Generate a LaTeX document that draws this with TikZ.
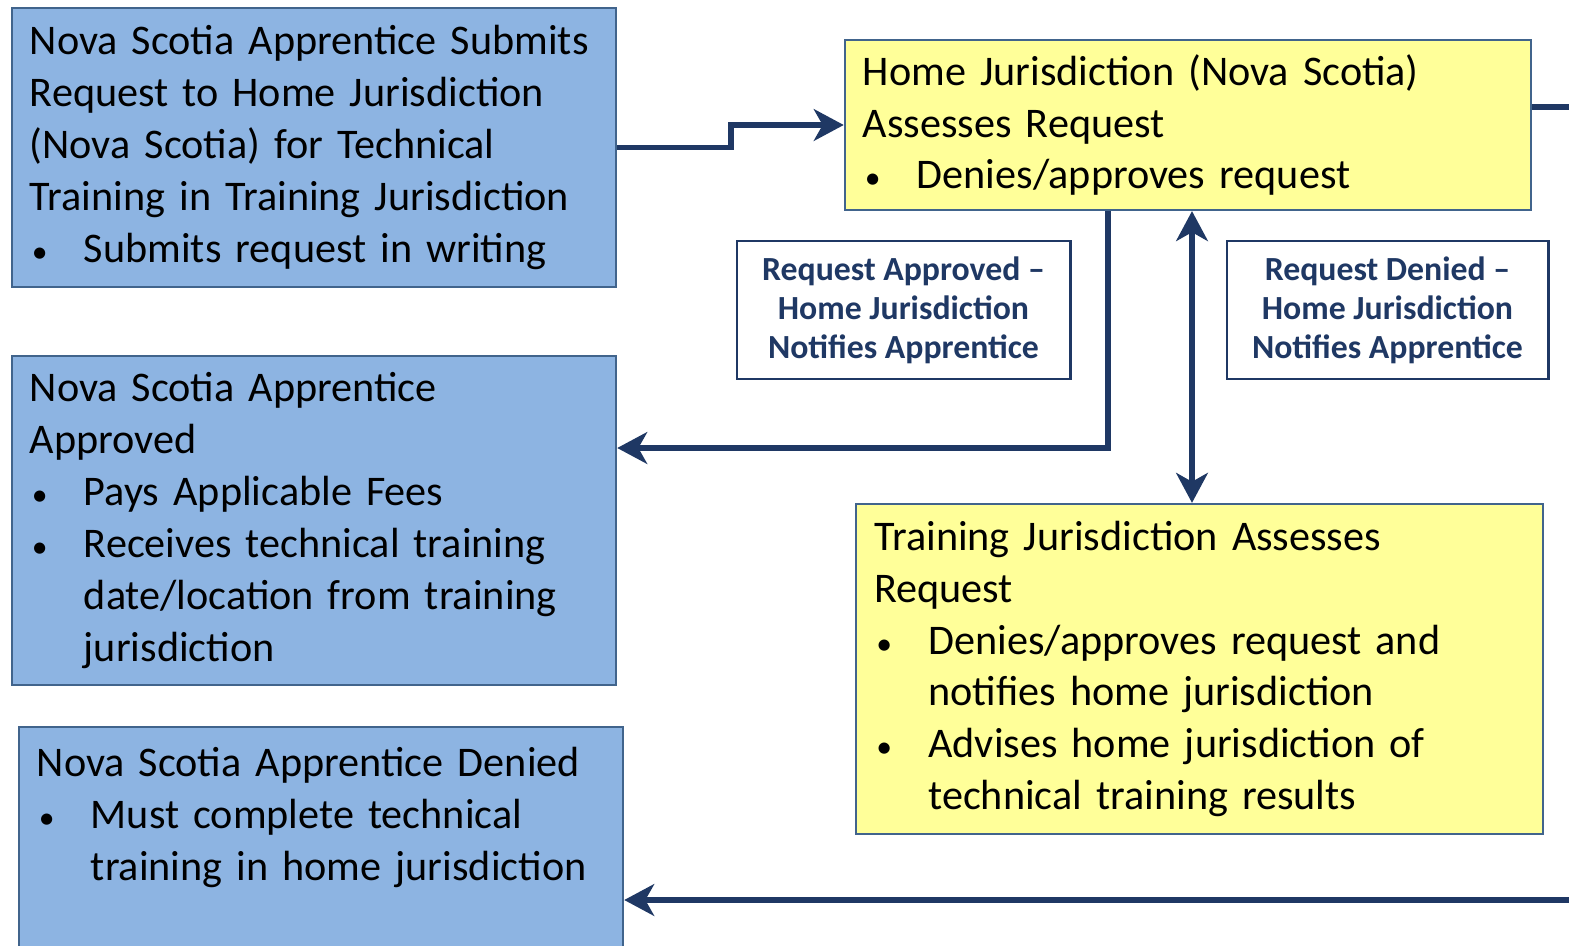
\documentclass[tikz,border=0pt]{standalone}
\usepackage{fontspec}
\setmainfont{Carlito}
\usetikzlibrary{arrows.meta,positioning}

\definecolor{stepblue}{HTML}{8DB4E2}
\definecolor{stepyellow}{HTML}{FFFF99}
\definecolor{frameline}{HTML}{41648C}
\definecolor{navy}{HTML}{1F3864}

% bullet line, wrapped lines kept under the text
\newdimen\bulletdepth
\newcommand{\bitem}[1]{\par\noindent\makebox[0.54cm][l]{\hspace{0.02cm}{\fontsize{9}{9}\selectfont\textbullet}}%
  \parbox[t]{\dimexpr\hsize-0.54cm\relax}{\raggedright #1\par\global\bulletdepth=\prevdepth}%
  \par\prevdepth=\bulletdepth}

\tikzset{
  stage/.style={draw=frameline, line width=0.6pt, inner xsep=0.18cm, inner ysep=0pt,
    align=left, font=\fontsize{12}{14.75}\selectfont},
  bluebox/.style={stage, fill=stepblue, minimum width=6.04cm, text width=5.68cm},
  yellowbox/.style={stage, fill=stepyellow, minimum width=6.86cm, text width=6.5cm},
  notebox/.style={draw=navy, line width=0.8pt, fill=white, align=center, text=navy,
    font=\fontsize{9.6}{11.1}\selectfont\bfseries, minimum height=1.38cm},
  navytip/.tip={Stealth[length=8.5pt,width=9pt,inset=2.5pt]},
  flow/.style={draw=navy, line width=1.7pt, -navytip},
}

\begin{document}
\begin{tikzpicture}[x=0.01cm, y=-0.01cm]

\useasboundingbox (0,0) rectangle (1569,945);
\clip (0,0) rectangle (1569,945);

% left column
\node[bluebox, minimum height=2.79cm] at (314,147.5) (submit)
  {Nova Scotia Apprentice Submits\\ Request to Home Jurisdiction\\ (Nova Scotia) for Technical\\ Training in Training Jurisdiction
   \bitem{Submits request in writing}};
\node[bluebox, minimum height=3.29cm] at (314,520.5) (approved)
  {Nova Scotia Apprentice\\ Approved
   \bitem{Pays Applicable Fees}
   \bitem{Receives technical training\\ date/location from training\\ jurisdiction}};
\node[bluebox, anchor=north, inner ysep=0.2cm] at (321,726) (denied)
  {Nova Scotia Apprentice Denied
   \bitem{Must complete technical\\ training in home jurisdiction}
   \rule{0pt}{2.5cm}};

% right column
\node[yellowbox, minimum height=1.70cm] at (1188,125) (home)
  {Home Jurisdiction (Nova Scotia)\\ Assesses Request
   \bitem{Denies/approves request}};
\node[yellowbox, minimum width=6.87cm, minimum height=3.30cm] at (1199.5,669) (training)
  {Training Jurisdiction Assesses\\ Request
   \bitem{Denies/approves request and\\ notifies home jurisdiction}
   \bitem{Advises home jurisdiction of\\ technical training results}};

% labels
\node[notebox, minimum width=3.33cm] at (903.5,310) (yeslabel)
  {Request Approved --\\ Home Jurisdiction\\ Notifies Apprentice};
\node[notebox, minimum width=3.21cm] at (1387.5,310) (nolabel)
  {Request Denied --\\ Home Jurisdiction\\ Notifies Apprentice};

%Connectors
\coordinate (bend) at (1108,448);
\coordinate (homeout) at (1590,107);
\coordinate (backin) at (1590,900);

\draw[flow] (submit.east) -- ++(114,0) |- (home.west);
\draw[flow] (home.south -| bend) -- (bend) -- (bend -| approved.east);
\draw[flow, navytip-navytip]
  ([xshift=0.04cm]home.south) -- ([xshift=0.04cm]home.south |- training.north);
\draw[draw=navy, line width=1.7pt] (homeout -| home.east) -- (homeout);
\draw[flow] (backin) -- (backin -| denied.east);

\end{tikzpicture}
\end{document}
